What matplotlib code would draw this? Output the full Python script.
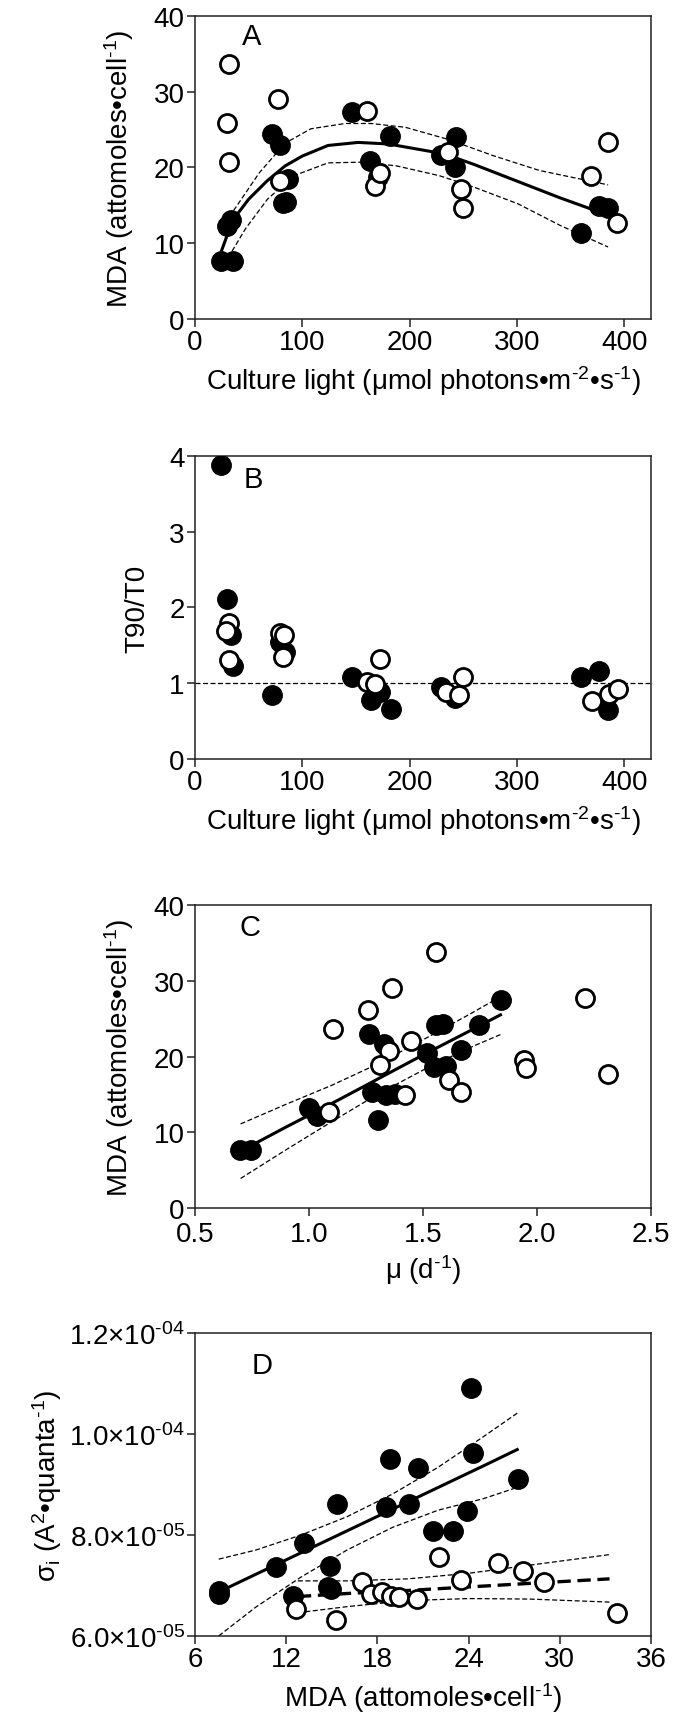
import numpy as np
import matplotlib
matplotlib.use("Agg")
import matplotlib.pyplot as plt

plt.rcParams['font.family'] = ['Liberation Sans', 'DejaVu Sans']
plt.rcParams['mathtext.fontset'] = 'custom'
plt.rcParams['mathtext.rm'] = 'Liberation Sans'
plt.rcParams['mathtext.it'] = 'Liberation Sans:italic'
plt.rcParams['mathtext.bf'] = 'Liberation Sans:bold'

fs = 20

# ---- panel A: MDA vs culture light ----
a_fill_x = [24.5, 35.4, 30, 34, 71.6, 79.6, 81.6, 85, 86.8, 146, 163, 171, 182, 229, 243.6, 242.4, 360, 377, 385]
a_fill_y = [7.6, 7.6, 12.3, 13.1, 24.4, 22.9, 15.3, 15.5, 18.5, 27.3, 20.8, 18.8, 24.2, 21.7, 24.0, 20.0, 11.4, 14.9, 14.7]
a_open_x = [31.4, 30, 31.4, 77.6, 79.6, 160, 168, 172, 236, 248, 249.6, 369, 385, 393]
a_open_y = [33.7, 25.9, 20.7, 29.0, 18.2, 27.5, 17.6, 19.3, 22.1, 17.1, 14.7, 18.9, 23.4, 12.7]
a_fit_x = [25, 35, 50, 67, 84, 100, 124, 152, 180, 204, 232, 260, 300, 340, 385]
a_fit_y = [9.1, 13.0, 15.8, 18.2, 20.2, 21.5, 22.9, 23.3, 23.1, 22.5, 21.8, 20.4, 18.2, 16.0, 13.7]
a_up_x = [30, 35, 60, 84, 108, 140, 164, 196, 236, 277, 321, 385]
a_up_y = [12.5, 14.1, 19.3, 23.2, 25.1, 25.8, 25.8, 25.3, 23.7, 21.6, 19.6, 17.7]
a_lo_x = [31, 47, 67.5, 92, 124, 156, 188, 228, 260, 301, 341, 385]
a_lo_y = [8.1, 11.9, 15.8, 18.9, 20.6, 20.7, 20.2, 18.9, 17.4, 15.2, 12.3, 9.5]

# ---- panel B: T90/T0 vs culture light ----
b_fill_x = [24.5, 30, 34, 35.4, 71.6, 79.6, 83.6, 146, 164, 172, 183, 229, 242, 360, 377, 385]
b_fill_y = [3.88, 2.11, 1.63, 1.23, 0.84, 1.54, 1.41, 1.08, 0.78, 0.89, 0.66, 0.95, 0.81, 1.08, 1.16, 0.64]
b_open_x = [31.4, 29.3, 31.4, 78.8, 82.8, 81.6, 160, 168, 172, 234, 246, 250, 370, 386, 394]
b_open_y = [1.80, 1.69, 1.30, 1.66, 1.63, 1.35, 1.02, 0.99, 1.32, 0.88, 0.84, 1.08, 0.77, 0.86, 0.92]
b_ref = 1.0

# ---- panel C: MDA vs growth rate ----
c_fill_x = [0.699, 0.746, 0.999, 1.036, 1.264, 1.330, 1.277, 1.304, 1.336, 1.378, 1.516, 1.558, 1.587, 1.548, 1.599, 1.668, 1.747, 1.842]
c_fill_y = [7.6, 7.6, 13.2, 12.2, 23.0, 21.7, 15.3, 11.6, 14.9, 15.1, 20.4, 24.1, 24.3, 18.6, 18.8, 20.8, 24.1, 27.4]
c_open_x = [1.107, 1.258, 1.364, 1.558, 1.349, 1.448, 1.313, 1.088, 1.422, 1.616, 1.668, 1.943, 1.951, 2.212, 2.310]
c_open_y = [23.6, 26.1, 29.1, 33.8, 20.7, 22.1, 18.9, 12.7, 14.9, 16.9, 15.3, 19.6, 18.5, 27.7, 17.7]
c_fit_x = [0.70, 0.90, 1.10, 1.30, 1.50, 1.70, 1.84]
c_fit_y = [7.5, 10.7, 13.8, 17.0, 20.2, 23.3, 25.5]
c_up_y = [11.1, 13.7, 16.2, 19.0, 22.2, 25.5, 27.9]
c_lo_y = [3.9, 7.7, 11.4, 15.0, 18.2, 21.1, 22.9]

# ---- panel D: sigma_i vs MDA ----
d_fill_x = [7.56, 7.56, 11.35, 12.43, 13.14, 14.9, 14.76, 14.95, 15.33, 18.54, 18.8, 20.1, 20.67, 21.67, 22.95, 23.9, 24.14, 24.28, 27.27]
d_fill_y = [6.89e-5, 6.84e-5, 7.37e-5, 6.79e-5, 7.84e-5, 7.39e-5, 6.97e-5, 6.93e-5, 8.61e-5, 8.56e-5, 9.50e-5, 8.62e-5, 9.32e-5, 8.07e-5, 8.07e-5, 8.48e-5, 1.090e-4, 9.62e-5, 9.11e-5]
d_open_x = [12.65, 15.27, 16.98, 17.55, 18.3, 18.9, 19.45, 20.6, 22.04, 23.5, 25.93, 27.55, 28.97, 33.75]
d_open_y = [6.53e-5, 6.32e-5, 7.06e-5, 6.83e-5, 6.86e-5, 6.79e-5, 6.77e-5, 6.74e-5, 7.57e-5, 7.11e-5, 7.44e-5, 7.29e-5, 7.07e-5, 6.46e-5]
d_fill_fit_x = [7.56, 10, 13, 16, 19, 22, 25, 27.2]
d_fill_fit_y = [6.87e-5, 7.22e-5, 7.65e-5, 8.08e-5, 8.51e-5, 8.94e-5, 9.37e-5, 9.69e-5]
d_fill_up_y = [7.52e-5, 7.70e-5, 8.00e-5, 8.36e-5, 8.81e-5, 9.34e-5, 9.95e-5, 10.41e-5]
d_fill_lo_y = [6.00e-5, 6.57e-5, 7.17e-5, 7.70e-5, 8.15e-5, 8.49e-5, 8.72e-5, 8.94e-5]
d_open_fit_x = [12.77, 16, 20, 24, 28, 33.27]
d_open_fit_y = [6.78e-5, 6.84e-5, 6.90e-5, 6.97e-5, 7.04e-5, 7.13e-5]
d_open_up_y = [7.09e-5, 7.09e-5, 7.13e-5, 7.24e-5, 7.40e-5, 7.61e-5]
d_open_lo_y = [6.46e-5, 6.58e-5, 6.70e-5, 6.74e-5, 6.73e-5, 6.67e-5]

d_yticks = [6e-5, 8e-5, 1e-4, 1.2e-4]
d_yticklabels = [r'$6.0{\times}10^{\text{-}05}$', r'$8.0{\times}10^{\text{-}05}$',
                 r'$1.0{\times}10^{\text{-}04}$', r'$1.2{\times}10^{\text{-}04}$']

light_label = r'Culture light (μmol photons•m$^{\text{-}2}$•s$^{\text{-}1}$)'
mda_label = r'MDA (attomoles•cell$^{\text{-}1}$)'

fig = plt.figure(figsize=(6.77, 17.24), dpi=100)
L, W, H = 0.288, 0.6736, 0.1758
axA = fig.add_axes([L, 0.8144, W, H])
axB = fig.add_axes([L, 0.5592, W, H])
axC = fig.add_axes([L, 0.2987, W, H])
axD = fig.add_axes([L, 0.0505, W, H])


def style(ax):
    for s in ax.spines.values():
        s.set_linewidth(1.1)
        s.set_color('#222222')
    ax.tick_params(direction='out', length=5.8, width=1.1, labelsize=fs, pad=1.5,
                   top=False, right=False, color='#222222')


def dots(ax, fx, fy, ox, oy):
    ax.plot(fx, fy, 'o', color='black', ms=14, mec='black', zorder=3)
    ax.plot(ox, oy, 'o', mfc='white', mec='black', mew=2, ms=13, zorder=4)


dash_thin = dict(color='black', lw=0.9, ls=(0, (4, 2)), zorder=2)

# A
dots(axA, a_fill_x, a_fill_y, a_open_x, a_open_y)
axA.plot(a_fit_x, a_fit_y, color='black', lw=2.2, zorder=2)
axA.plot(a_up_x, a_up_y, **dash_thin)
axA.plot(a_lo_x, a_lo_y, **dash_thin)
axA.set_xlim(0, 425)
axA.set_ylim(0, 40)
axA.set_xticks([0, 100, 200, 300, 400])
axA.set_yticks([0, 10, 20, 30, 40])
axA.set_xlabel(light_label, fontsize=fs, labelpad=6)
axA.set_ylabel(mda_label, fontsize=fs, labelpad=13)
axA.text(0.125, 0.934, 'A', transform=axA.transAxes, fontsize=fs + 1, ha='center', va='center')

# B
dots(axB, b_fill_x, b_fill_y, b_open_x, b_open_y)
axB.axhline(b_ref, **dash_thin)
axB.set_xlim(0, 425)
axB.set_ylim(0, 4)
axB.set_xticks([0, 100, 200, 300, 400])
axB.set_yticks([0, 1, 2, 3, 4])
axB.set_xlabel(light_label, fontsize=fs, labelpad=6)
axB.set_ylabel('T90/T0', fontsize=fs, labelpad=14)
axB.text(0.129, 0.924, 'B', transform=axB.transAxes, fontsize=fs + 1, ha='center', va='center')

# C
dots(axC, c_fill_x, c_fill_y, c_open_x, c_open_y)
axC.plot(c_fit_x, c_fit_y, color='black', lw=2.2, zorder=2)
axC.plot(c_fit_x, c_up_y, **dash_thin)
axC.plot(c_fit_x, c_lo_y, **dash_thin)
axC.set_xlim(0.5, 2.5)
axC.set_ylim(0, 40)
axC.set_xticks([0.5, 1.0, 1.5, 2.0, 2.5])
axC.set_xticklabels(['0.5', '1.0', '1.5', '2.0', '2.5'])
axC.set_yticks([0, 10, 20, 30, 40])
axC.set_xlabel(r'μ (d$^{\text{-}1}$)', fontsize=fs, labelpad=4)
axC.set_ylabel(mda_label, fontsize=fs, labelpad=13)
axC.text(0.12, 0.927, 'C', transform=axC.transAxes, fontsize=fs + 1, ha='center', va='center')

# D
dots(axD, d_fill_x, d_fill_y, d_open_x, d_open_y)
axD.plot(d_fill_fit_x, d_fill_fit_y, color='black', lw=2.2, zorder=2)
axD.plot(d_fill_fit_x, d_fill_up_y, **dash_thin)
axD.plot(d_fill_fit_x, d_fill_lo_y, **dash_thin)
axD.plot(d_open_fit_x, d_open_fit_y, color='black', lw=2.4, ls=(0, (4, 2)), zorder=2)
axD.plot(d_open_fit_x, d_open_up_y, **dash_thin)
axD.plot(d_open_fit_x, d_open_lo_y, **dash_thin)
axD.set_xlim(6, 36)
axD.set_ylim(6e-5, 1.2e-4)
axD.set_xticks([6, 12, 18, 24, 30, 36])
axD.set_yticks(d_yticks)
axD.set_yticklabels(d_yticklabels)
axD.set_xlabel(mda_label, fontsize=fs, labelpad=6)
axD.set_ylabel(r'σ$_\mathrm{i}$ (A$^2$•quanta$^{\text{-}1}$)', fontsize=fs, labelpad=4)
axD.text(0.147, 0.894, 'D', transform=axD.transAxes, fontsize=fs + 1, ha='center', va='center')

for ax in (axA, axB, axC, axD):
    style(ax)
# keep the "0.5" label clear of the "0" label at the corner of panel C
axC.tick_params(axis='x', pad=3.5)

fig.savefig('out.png', dpi=100)
